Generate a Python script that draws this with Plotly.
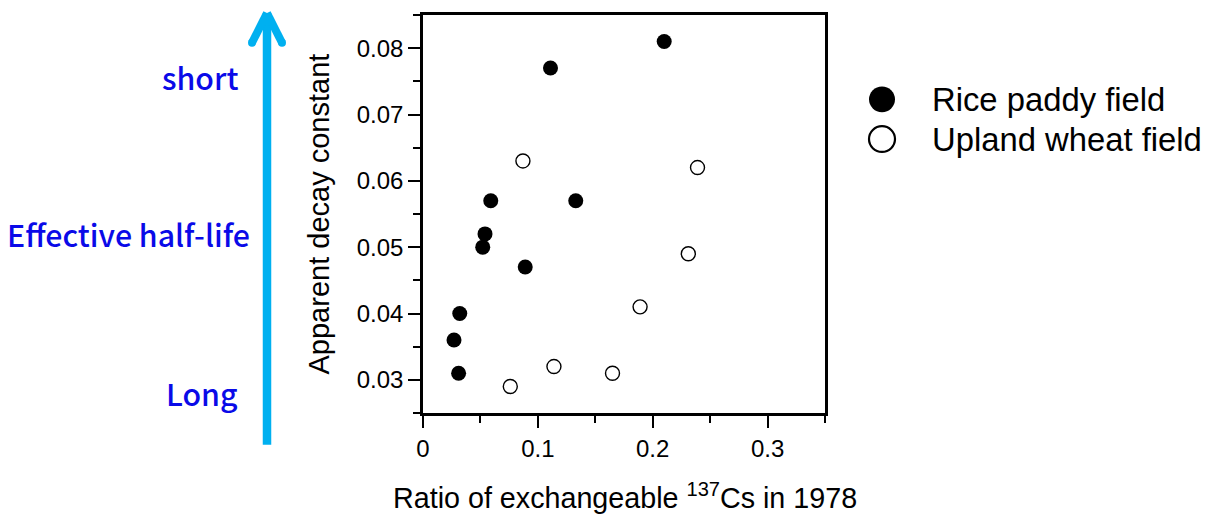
import plotly.graph_objects as go

# Data
rice_x = [0.210, 0.111, 0.059, 0.133, 0.054, 0.052, 0.089, 0.032, 0.027, 0.031]
rice_y = [0.081, 0.077, 0.057, 0.057, 0.052, 0.050, 0.047, 0.040, 0.036, 0.031]
wheat_x = [0.087, 0.239, 0.231, 0.189, 0.114, 0.165, 0.076]
wheat_y = [0.063, 0.062, 0.049, 0.041, 0.032, 0.031, 0.029]

series_names = ["Rice paddy field", "Upland wheat field"]
x_title = "Ratio of exchangeable <sup>137</sup>Cs in 1978"
y_title = "Apparent decay constant"
side_labels = ["short", "Effective half-life", "Long"]

W, H = 1212, 519
L, R, T, B = 423, 387, 12, 106
PW, PH = W - L - R, H - T - B


def px(x):
    return (x - L) / PW


def py(y):
    return (H - B - y) / PH


fig = go.Figure()
fig.add_trace(go.Scatter(x=rice_x, y=rice_y, mode="markers", name=series_names[0],
                         marker=dict(symbol="circle", size=15, color="black",
                                     line=dict(width=0)),
                         showlegend=False))
fig.add_trace(go.Scatter(x=wheat_x, y=wheat_y, mode="markers", name=series_names[1],
                         marker=dict(symbol="circle", size=14, color="white",
                                     line=dict(width=1.4, color="black")),
                         showlegend=False))

axis_common = dict(showgrid=False, zeroline=False, showline=True, linecolor="black",
                   linewidth=2.5, mirror=True, ticks="outside", tickwidth=2,
                   tickcolor="black", ticklen=12,
                   tickfont=dict(family="Liberation Sans, Arial", size=24, color="black"))

fig.update_xaxes(range=[0, 0.35], dtick=0.1, tick0=0,
                 minor=dict(dtick=0.05, ticklen=7, tickwidth=2, ticks="outside",
                            tickcolor="black"),
                 ticklabelstandoff=0, **axis_common)
fig.update_yaxes(range=[0.025, 0.085], dtick=0.01, tick0=0.03,
                 minor=dict(dtick=0.005, ticklen=7, tickwidth=2, ticks="outside",
                            tickcolor="black"),
                 ticklabelstandoff=0, **axis_common)

annotations = []
shapes = []
title_font = dict(family="Liberation Sans, Arial", size=28.7, color="black")
annotations.append(dict(text=x_title, x=px(625), y=py(497), xref="paper", yref="paper",
                        showarrow=False, xanchor="center", yanchor="middle",
                        font=title_font))
annotations.append(dict(text=y_title, x=px(319), y=py(213), xref="paper", yref="paper",
                        showarrow=False, xanchor="center", yanchor="middle",
                        textangle=-90, font=dict(family="Liberation Sans, Arial",
                                                 size=29, color="black")))

# Legend (drawn manually to get large symbols)
leg_font = dict(family="Liberation Sans, Arial", size=32.8, color="black")
leg_y = [97, 137]
rad = 13
for i, name in enumerate(series_names):
    cy = leg_y[i]
    shapes.append(dict(type="circle", xref="paper", yref="paper",
                       x0=px(882 - rad), x1=px(882 + rad),
                       y0=py(cy + rad), y1=py(cy - rad),
                       fillcolor="black" if i == 0 else "white",
                       line=dict(color="black", width=0 if i == 0 else 2.2)))
    annotations.append(dict(text=name, x=px(930), y=py(cy), xref="paper", yref="paper",
                            showarrow=False, xanchor="left", yanchor="middle",
                            font=leg_font))

# Left side labels and arrow
blue_font = dict(family="Noto Sans CJK JP", size=30.3, color="#0A0AE8", weight=500)
side_pos = [(240, 74), (252, 233), (240, 393)]
for lab, (sx, sy) in zip(side_labels, side_pos):
    annotations.append(dict(text=lab, x=px(sx), y=py(sy), xref="paper", yref="paper",
                            showarrow=False, xanchor="right", yanchor="middle",
                            font=blue_font))

arrow_col = "#00B0F0"
shapes.append(dict(type="line", xref="paper", yref="paper",
                   x0=px(267), x1=px(267), y0=py(445), y1=py(10),
                   line=dict(color=arrow_col, width=8.5)))
for ex in (252, 282):
    shapes.append(dict(type="line", xref="paper", yref="paper",
                       x0=px(267), x1=px(ex), y0=py(10), y1=py(40),
                       line=dict(color=arrow_col, width=8)))
for ex in (252, 282):
    shapes.append(dict(type="circle", xref="paper", yref="paper",
                       x0=px(ex - 4), x1=px(ex + 4), y0=py(40 + 4), y1=py(40 - 4),
                       fillcolor=arrow_col, line=dict(width=0)))

fig.update_layout(width=W, height=H, margin=dict(l=L, r=R, t=T, b=B),
                  plot_bgcolor="white", paper_bgcolor="white",
                  annotations=annotations, shapes=shapes, showlegend=False)

fig.write_html("out.html")
